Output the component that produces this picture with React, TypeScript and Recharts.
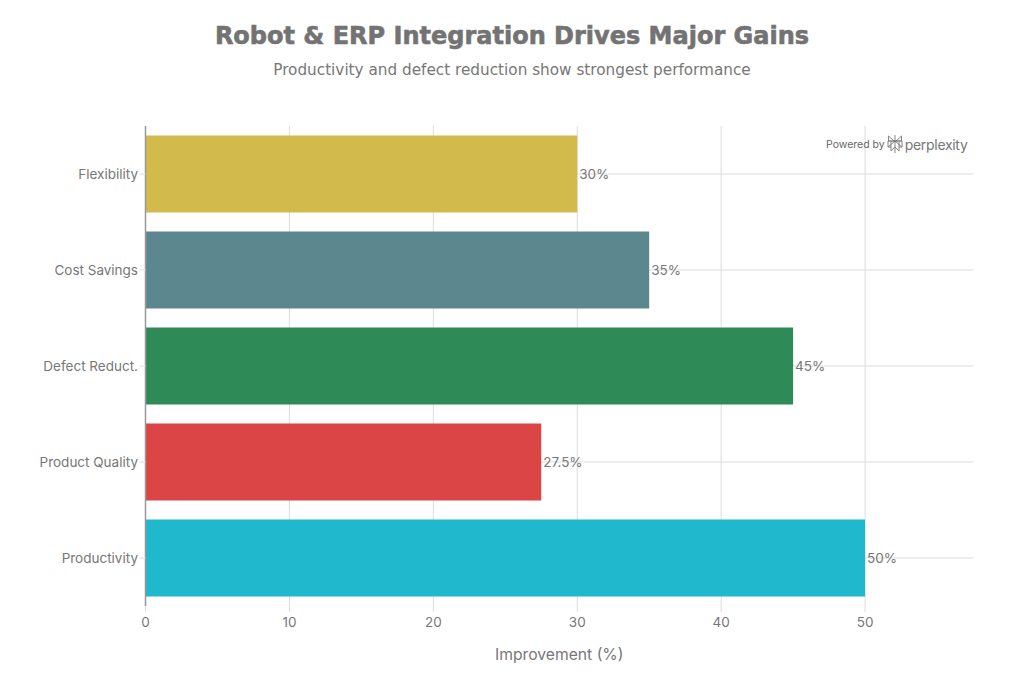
import { Bar, BarChart, CartesianGrid, Cell, LabelList, XAxis, YAxis } from "recharts";

const categories = ["Productivity", "Product Quality", "Defect Reduct.", "Cost Savings", "Flexibility"];
const improvement = [50, 27.5, 45, 35, 30];
const barColors = ["#1FB8CD", "#DB4545", "#2E8B57", "#5D878F", "#D2BA4C"];
const xTicks = [0, 10, 20, 30, 40, 50];

const data = categories.map((name, i) => ({ name, value: improvement[i] }));

const labelFont = "Inter, 'Liberation Sans', sans-serif";

function Watermark() {
  // small approximation of the perplexity mark
  return (
    <div style={{ position: "absolute", left: 826, top: 133, width: 150, height: 22, display: "flex", alignItems: "center", color: "#666", fontFamily: labelFont }}>
      <span style={{ fontSize: 10.5 }}>Powered by</span>
      <svg width="16" height="20" viewBox="0 0 16 20" style={{ marginLeft: 2 }} fill="none" stroke="#777" strokeWidth="0.9">
        <path d="M8 1v18M1.5 2L8 8l6.5-6M1.5 2v5h13V2M1 7l7 0 7 0M1 13l7-6 7 6M1 7v6h3M15 7v6h-3M4 8v9l4-4 4 4V8" />
      </svg>
      <span style={{ fontSize: 14, marginLeft: 2, letterSpacing: -0.3, color: "#777" }}>perplexity</span>
    </div>
  );
}

export default function App() {
  return (
    <div style={{ position: "absolute", left: 0, top: 0, width: 1024, height: 683, background: "#fff", overflow: "hidden" }}>
      <div style={{ position: "absolute", left: 0, width: 1024, top: 19, textAlign: "center", fontFamily: "'DejaVu Sans', sans-serif", fontWeight: 700, fontSize: 24, color: "#737373", lineHeight: "34px", WebkitTextStroke: "0.6px #737373" }}>
        Robot &amp; ERP Integration Drives Major Gains
      </div>
      <div style={{ position: "absolute", left: 0, width: 1024, top: 60, textAlign: "center", fontFamily: "'DejaVu Sans', sans-serif", fontSize: 15.25, color: "#777", lineHeight: "20px" }}>
        Productivity and defect reduction show strongest performance
      </div>
      <BarChart
        width={1024}
        height={683}
        data={data}
        layout="vertical"
        barCategoryGap="10%"
        margin={{ top: 126, right: 51, bottom: 0, left: 0 }}
      >
        <CartesianGrid stroke="#dcdcdc" strokeWidth={1} syncWithTicks />
        <XAxis
          type="number"
          domain={[0, 57.5]}
          ticks={xTicks}
          height={77}
          tick={{ fontSize: 13.5, fill: "#777", fontFamily: labelFont }}
          tickLine={{ stroke: "#ddd" }}
          tickSize={6}
          tickMargin={5}
          axisLine={false}
          label={{ value: "Improvement (%)", position: "insideTop", offset: 43, fontSize: 15.7, fill: "#777", fontFamily: labelFont }}
        />
        <YAxis
          type="category"
          dataKey="name"
          reversed
          width={145.5}
          tick={{ fontSize: 13.5, fill: "#777", fontFamily: labelFont }}
          tickLine={{ stroke: "#ddd" }}
          tickSize={6}
          tickMargin={1.5}
          axisLine={{ stroke: "#999", strokeWidth: 1.5 }}
        />
        <Bar dataKey="value" isAnimationActive={false}>
          {data.map((d, i) => (
            <Cell key={d.name} fill={barColors[i]} />
          ))}
          <LabelList
            dataKey="value"
            position="right"
            offset={2}
            formatter={(v: number) => `${v}%`}
            style={{ fontSize: 13.5, fill: "#777", fontFamily: labelFont }}
          />
        </Bar>
      </BarChart>
      <Watermark />
    </div>
  );
}
